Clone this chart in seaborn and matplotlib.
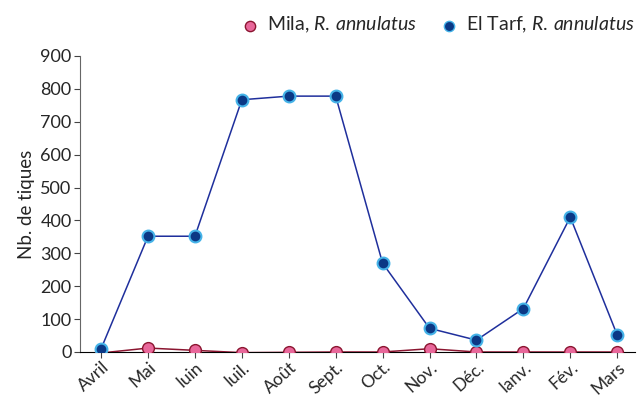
import numpy as np
import pandas as pd
import matplotlib
matplotlib.use("Agg")
import matplotlib.pyplot as plt
import seaborn as sns

months = ["Avril", "Mai", "Iuin", "Iuil.", "Août", "Sept.", "Oct.",
          "Nov.", "Déc.", "Ianv.", "Fév.", "Mars"]
mila = [-3, 12, 5, -2, -1, 0, 0, 10, 0, 0, 0, 0]
el_tarf = [10, 352, 352, 767, 778, 778, 270, 72, 36, 132, 410, 52]

sns.set_style("ticks")
plt.rcParams["font.family"] = ["Lato", "DejaVu Sans"]
plt.rcParams["mathtext.fontset"] = "custom"
plt.rcParams["mathtext.rm"] = "Lato"
plt.rcParams["mathtext.it"] = "Lato:italic"

fig = plt.figure(figsize=(6.38, 3.96), dpi=100)
ax = fig.add_axes([80 / 638, (396 - 352) / 396, (635 - 80) / 638, (352 - 56) / 396])

x = np.arange(len(months))
ax.plot(x, mila, color="#8b1530", lw=1.1, marker="o", ms=8.5,
        markerfacecolor="#e8679a", markeredgecolor="#8b1530", markeredgewidth=1.0,
        zorder=3)
ax.plot(x, el_tarf, color="#1f2f9c", lw=1.1, marker="o", ms=8.5,
        markerfacecolor="#0b3885", markeredgecolor="#45b3e8", markeredgewidth=1.5,
        zorder=4)

# legend with markers only
ax.scatter([], [], s=55, color="#e8679a", edgecolor="#8b1530", label="Mila, $\\it{R.\\,annulatus}$")
ax.scatter([], [], s=55, color="#0b3885", edgecolor="#45b3e8", label="El Tarf, $\\it{R.\\,annulatus}$")
leg = ax.legend(loc="lower right", bbox_to_anchor=(1.0, 1.07), ncol=2, frameon=False,
                fontsize=14, handletextpad=0.2, columnspacing=0.9, borderaxespad=0,
                borderpad=0, handlelength=1.4)

ax.set_ylim(0, 900)
ax.set_yticks(range(0, 901, 100))
ax.set_xlim(-0.45, 11.38)
ax.set_xticks(x)
ax.set_xticklabels(months, rotation=42, ha="right", rotation_mode="anchor")
ax.set_ylabel("Nb. de tiques", fontsize=13.5)
ax.tick_params(axis="both", labelsize=13, length=4, width=0.8, color="#444444")
ax.tick_params(axis="x", labelsize=12.5, pad=1)
ax.tick_params(axis="y", pad=2)
ax.spines["left"].set_color("#666666")
ax.spines["bottom"].set_color("#000000")
for s in ["top", "right"]:
    ax.spines[s].set_visible(False)

fig.savefig("out.png", dpi=100)
